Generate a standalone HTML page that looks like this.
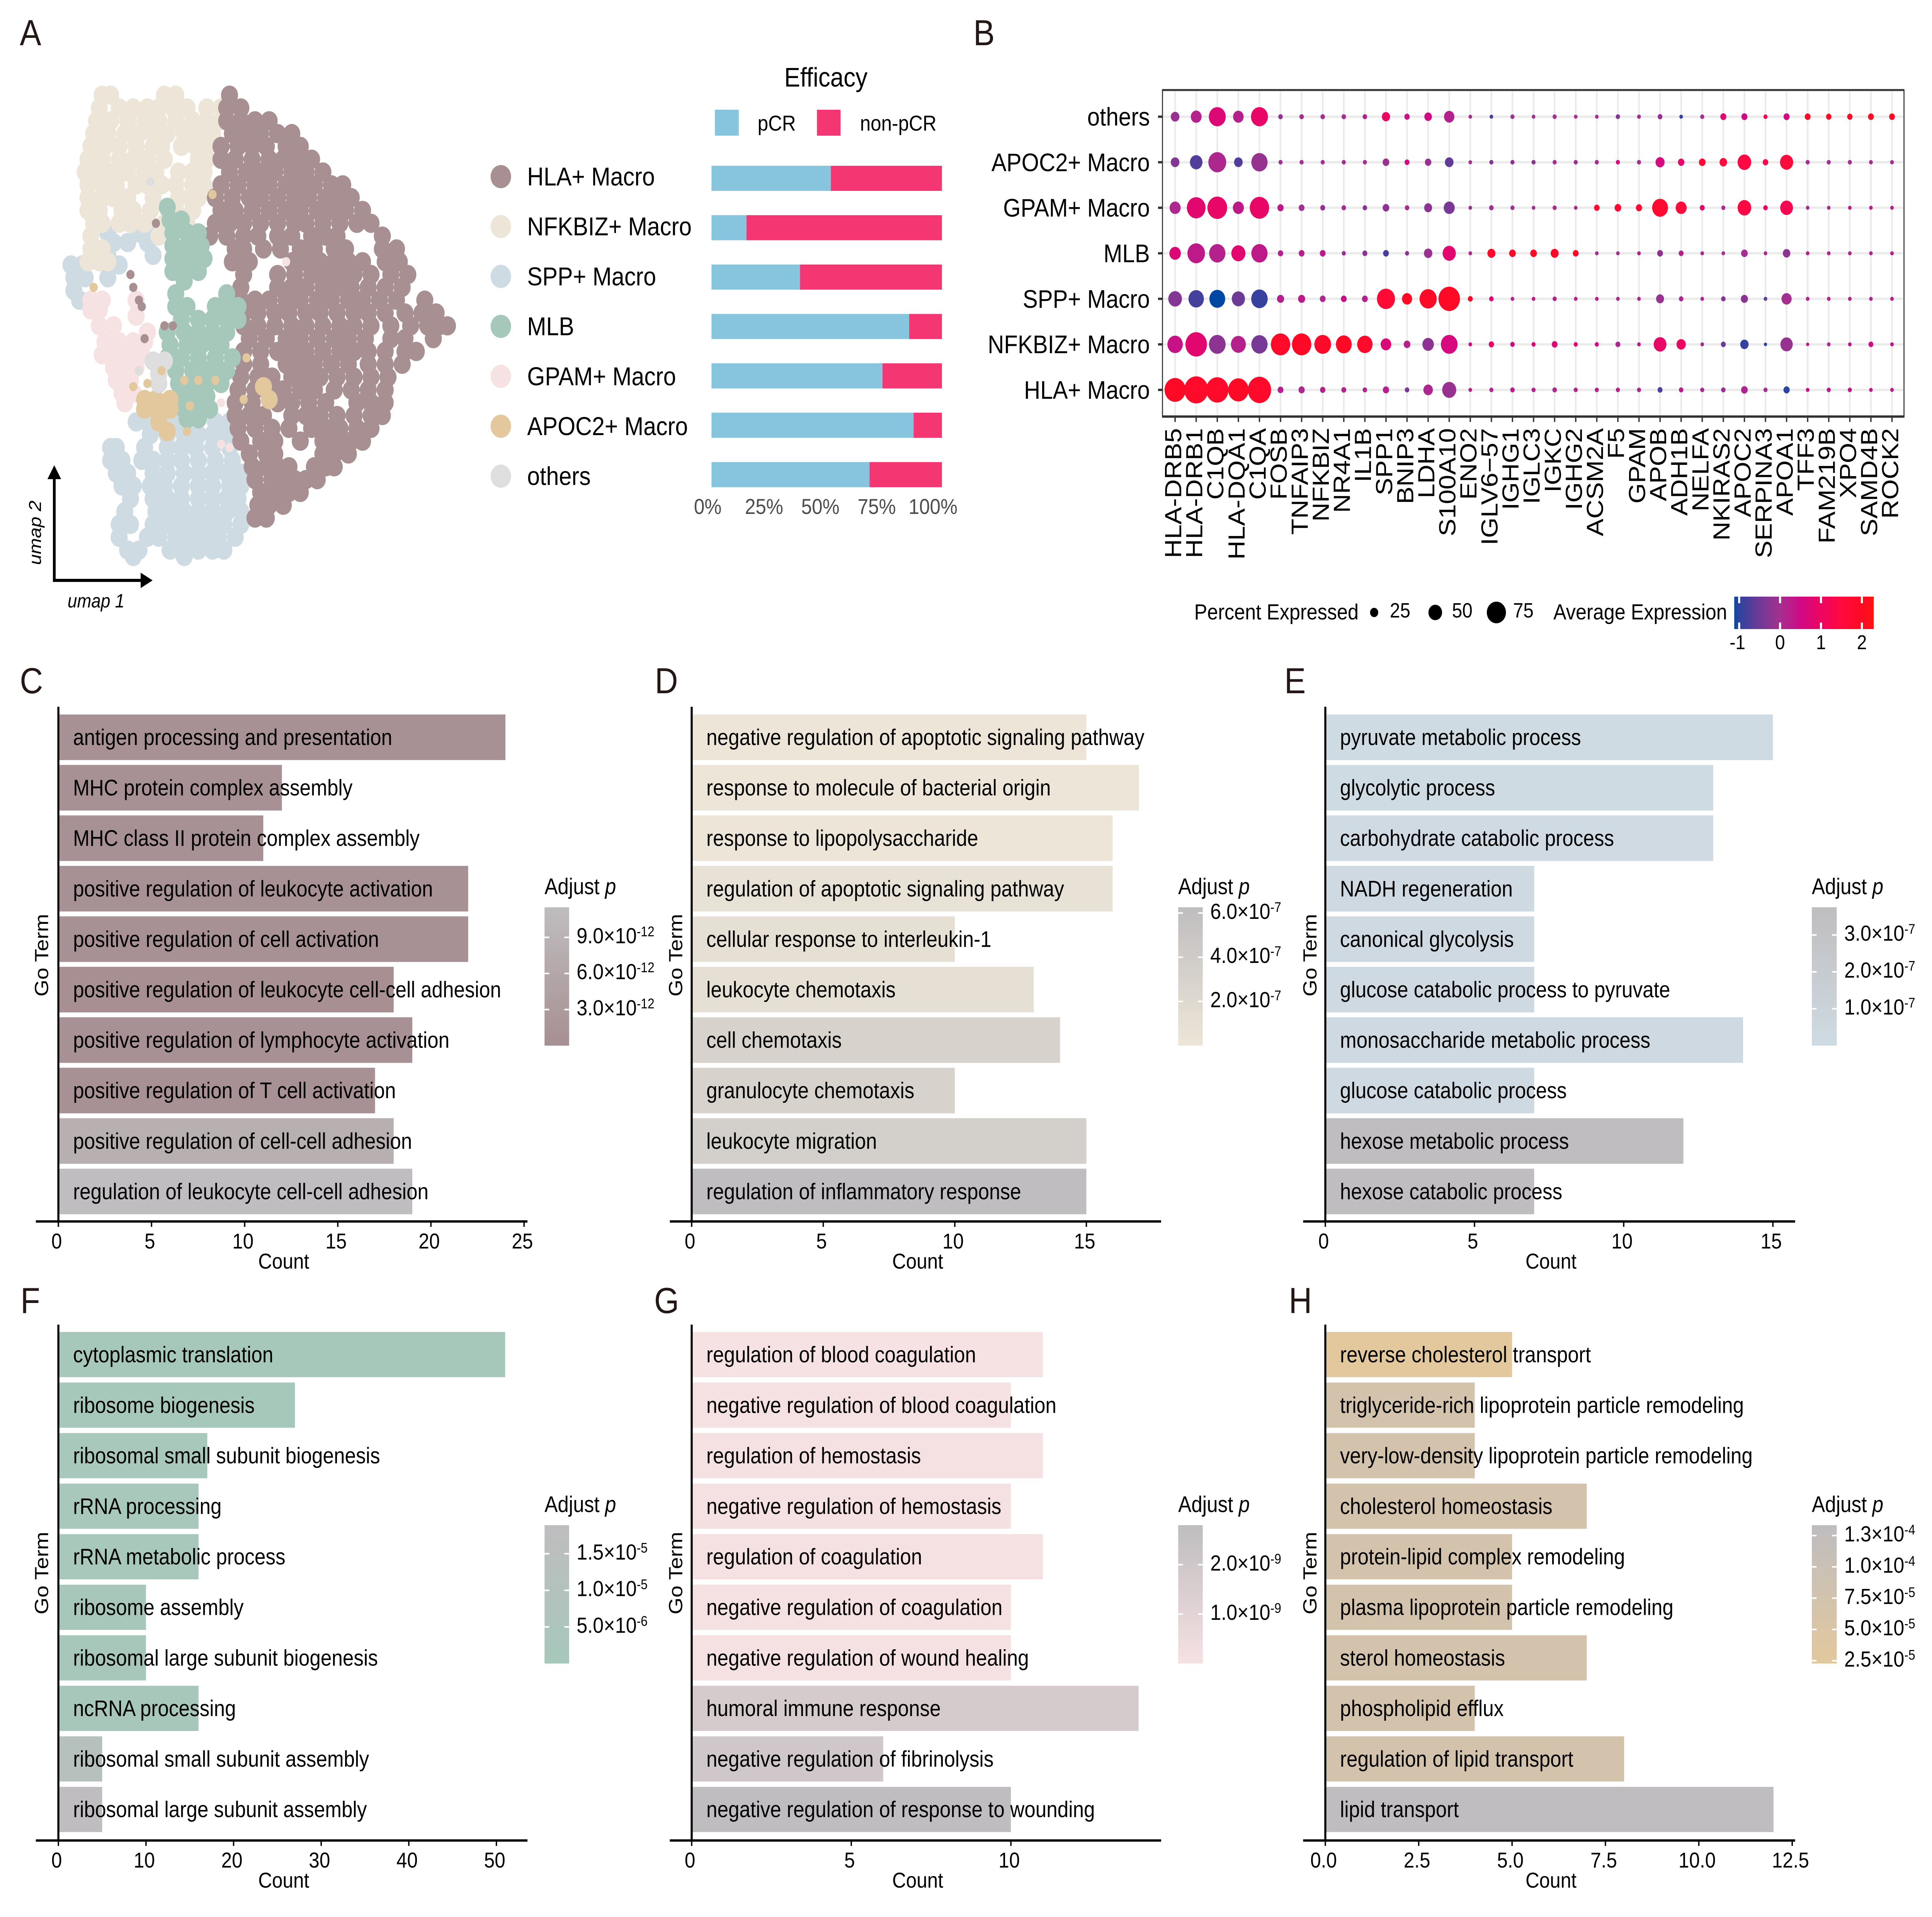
<!DOCTYPE html>
<html lang="en">
<head>
<meta charset="utf-8">
<title>Macrophage subsets figure</title>
<style>
html,body{margin:0;padding:0;background:#fff;width:100%;overflow:hidden;}
svg{display:block;width:100%;height:4961px;font-family:"Liberation Sans",Arial,sans-serif;}
</style>
</head>
<body>
<svg id="figure" xmlns="http://www.w3.org/2000/svg" viewBox="0 0 5659 4961" preserveAspectRatio="none">
<defs id="defs"></defs>
<rect width="5659" height="4961" fill="#fff"></rect>
</svg>
<script>
/* ---------- Panel A data ---------- */
const clusterNames = ["HLA+ Macro","NFKBIZ+ Macro","SPP+ Macro","MLB","GPAM+ Macro","APOC2+ Macro","others"];
const clusterColors = ["#a78f92","#ede6d8","#cfdbe3","#a6c8bb","#f6e1e3","#e3c89d","#dedede"];
const pcrPercent = [51.8,15.2,38.4,85.8,74.2,87.7,68.6];
const pctTicks = [0,25,50,75,100];
const pctTickLabels = ["0%","25%","50%","75%","100%"];
/* UMAP coordinates, one row per umap-2 value: [umap2, umap1, umap1, ...] */
const umapHla = [
[8,63],[12,62,67],[16,62,67,72,77],[20,64,69,74,80,85],[24,60,66,71,76,83,88],
[28,60,65,71,77,82,87,92],[32,63,69,74,79,85,90,96],[36,60,66,72,77,83,88,93,99,103],
[40,58,64,70,74,80,86,91,97,102,106],[44,60,65,71,77,83,88,94,99,104,110],
[48,58,63,68,74,80,86,90,96,102,108,113],[52,56,62,68,73,80,85,92,97,101,117],
[56,65,68,75,81,88,93,100,104,117,122],[60,64,68,70,85,90,95,100,105,110,118,123],
[64,68,80,86,92,97,102,107,113,120,126],[68,67,80,85,90,96,101,106,112,118,124],
[72,67,72,77,83,88,94,99,105,110,116,122,132],[76,68,73,79,84,90,95,101,107,112,118,125,131,136],
[80,68,73,79,85,90,96,102,107,113,120,127,133,137,140],[84,70,76,83,88,94,100,105,111,120,125,135],
[88,68,74,80,85,90,96,102,107,112,118,125,129],[92,68,74,83,88,93,99,105,112,118,124],
[96,67,73,78,85,90,95,101,107,113,119],[100,66,72,77,82,88,93,100,106,112,118],
[104,65,71,80,85,91,97,108,113,118],[108,65,70,75,85,90,95,101,107,113,117],
[112,66,72,78,84,92,97,102,108,113],[116,67,74,79,88,96,101,106,110],
[120,70,76,79,96,100,105],[124,71,76,80,84,93,97,100],[128,72,78,82,86,90,94],
[132,74,79,84,88],[136,73,77,82],[140,72,76]
];
const umapNfkbiz = [
[8,18,21,40,44],[12,17,24,29,34,38,43,48,55,60],[16,16,21,27,33,38,44,50,55,60],
[20,15,20,26,31,36,41,47,52,57],[24,14,19,24,30,36,39,46,51,55],[28,13,18,24,29,34,40,52,55],
[32,12,17,22,27,33,37,45,50,54],[36,13,18,23,30,34,39,44,50,54],[40,13,18,22,27,36,45,49,52],
[44,13,17,25,29,35,44,50],[48,15,18,24,28,33,40,48],[52,14,38],[56,14,18],[60,13,17,20]
];
const umapSpp = [
[51,31,36,20],[54,34,27,22],[58,36,20],[61,7,11,24],[65,8,12,20],[69,8],[72,10],
[110,30,34,43,50,58,63],[114,35,41,47,52,57,62],[118,21,23,33,41,46,51,57,63],
[122,21,25,32,36,41,46,52,58,64],[126,23,27,36,41,47,52,57,62,67],[130,25,29,35,40,46,52,57,63,67],
[134,28,36,41,46,52,57,62,66],[138,26,37,42,47,52,57,62,67],[142,24,28,36,41,46,51,56,61,67],
[146,24,34,38,44,49,54,59,65],[150,27,31,42,47,52,57,61],[152,29,47]
];
const umapMlb = [
[43,41],[47,42,46],[51,43,48,52],[55,43,48,53],[59,43,47,51,54],[63,43,48,52],[66,47],
[70,44,62],[74,44,48,58,63,66],[78,46,52,57,62,66],[82,41,47,52,57,62],[86,42,48,53,58,60],
[90,41,46,52,58,64],[94,44,50,55,60,62],[98,45,50,55,60],[102,47,52,55],[106,47,52,56],[109,48,52]
];
const umapGpam = [
[72,14,18,30],[75,14,17],[77,30],[80,17,22],[82,34],[85,19,24,29,33],[89,18,23,28,32],
[93,22,27,30],[97,23,28],[101,25,29],[104,26]
];
const umapApoc2 = [[99,75],[103,33,37,42,77],[106,33,37,42],[110,38],[113,41]];
const umapOthers = [[91,36,40],[95,38],[98,38]];
const umapClusters = [umapSpp,umapNfkbiz,umapHla,umapMlb,umapGpam,umapApoc2,umapOthers];
const umapClusterIndex = [2,1,0,3,4,5,6];
/* isolated cells: [cluster index, umap1, umap2] */
const umapSingles = [
[0,28,64],[0,29,68],[0,31,72],[0,32,74],[0,40,80],[0,43,80],[0,33,84],[0,37,48],
[4,83,60],[4,60,117],[4,63,118],[4,60,104],
[5,29,99],[5,34,98],[5,39,94],[5,47,97],[5,52,97],[5,58,97],[5,68,103],
[5,69,90],[5,57,39],[5,15,68],[5,49,105],[5,48,113],[6,31,94],[6,35,35]
];

/* ---------- Panel B data ---------- */
const dotGenes = ["HLA-DRB5","HLA-DRB1","C1QB","HLA-DQA1","C1QA","FOSB","TNFAIP3","NFKBIZ","NR4A1","IL1B","SPP1","BNIP3","LDHA","S100A10","ENO2","IGLV6\u221257","IGHG1","IGLC3","IGKC","IGHG2","ACSM2A","F5","GPAM","APOB","ADH1B","NELFA","NKIRAS2","APOC2","SERPINA3","APOA1","TFF3","FAM219B","XPO4","SAMD4B","ROCK2"];
const dotRows = ["HLA+ Macro","NFKBIZ+ Macro","SPP+ Macro","MLB","GPAM+ Macro","APOC2+ Macro","others"];
const dotPct = [
[84,97,90,81,94,14,16,12,10,8,16,8,31,52,4,6,8,6,8,6,6,6,6,10,8,6,8,18,6,16,4,6,6,4,4],
[58,86,64,56,62,76,76,64,60,58,36,18,40,64,4,12,8,6,14,6,6,10,4,46,30,4,10,26,2,44,2,4,4,10,4],
[50,58,60,48,63,20,20,14,14,14,70,34,66,86,10,8,4,4,6,4,4,4,4,24,8,4,8,20,4,34,4,4,4,4,4],
[40,68,62,52,62,12,14,14,6,10,14,6,26,48,4,24,18,18,24,14,4,4,4,14,10,4,4,18,4,22,4,4,4,4,4],
[38,73,78,38,76,16,14,10,8,8,18,8,24,38,4,8,6,4,6,4,13,18,16,60,38,10,6,50,8,46,4,4,4,4,4],
[27,45,69,27,62,6,6,6,6,6,18,10,17,27,4,6,6,6,6,6,6,6,6,29,17,18,22,50,13,48,6,6,6,5,5],
[27,37,65,36,65,8,8,8,8,8,25,12,22,35,4,4,6,4,6,4,4,7,5,9,4,6,15,15,6,15,14,12,12,14,14]
];
const dotExp = [
[1.9,1.8,1.8,1.9,1.8,.2,.1,.2,.1,.1,.2,-.4,.1,-.1,.2,.1,.2,.2,.1,.2,.2,.2,.1,-.7,.2,.1,-.1,.1,0,-1,.4,.3,.3,.3,.3],
[.4,.8,-.2,.2,-.4,1.8,1.9,1.8,1.9,1.8,.7,.2,-.2,.6,.5,.9,.5,.7,.7,.8,.6,.1,.3,.9,1,.1,-.5,-.9,-1,-.1,.3,.1,.3,.4,.3],
[-.3,-.8,-1.09,-.5,-.9,.2,.3,.1,.4,.2,1.6,1.9,1.9,1.9,1.9,.7,.1,.3,.2,.2,.2,.1,.1,-.1,.1,.1,-.3,-.2,-.6,0,.2,.2,.2,.1,.2],
[.7,.3,.2,.8,.3,.2,.2,.3,-.1,-.2,-.8,-.2,-.1,.8,.1,1.8,1.8,1.9,1.9,1.9,0,0,.2,-.2,.2,.1,0,0,.1,-.2,.2,.2,.2,.1,.2],
[.1,.8,.9,.3,.9,.3,0,-.1,0,-.2,-.2,0,-.2,-.4,-.1,-.1,-.1,0,.1,.1,1.6,1.7,1.7,1.7,1.5,.8,0,1.4,.9,1.2,0,0,.3,.2,.2],
[-.3,-.7,.1,-.7,-.1,0,0,0,0,0,-.1,.6,-.1,-.6,0,-.3,-.2,-.2,0,-.1,0,.6,0,.6,.9,1.6,1.5,1.4,1.3,1.5,0,0,0,0,0],
[-.1,.2,.7,.2,.9,-.2,0,0,0,.2,1,.4,.5,.2,0,-.8,-.1,-.1,0,0,0,-.3,0,-.1,-.9,0,.8,.5,1.3,.5,1.8,1.9,1.9,1.9,2]
];
const sizeLegendPct = [25,50,75];
const sizeLegendLabels = ["25","50","75"];
const expTicks = [-1,0,1,2];
const expTickLabels = ["-1","0","1","2"];
const expStopValues = [-1.09,-1,-.5,0,.5,1,1.5,2,2.25];
const expStopColors = ["#0047a3","#2a44a0","#6d3a96","#a33090","#d00a85","#ee0560","#ff0a3c","#ff0a20","#ff1414"];

/* ---------- Panels C-H data ---------- */
const termsC = ["antigen processing and presentation","MHC protein complex assembly","MHC class II protein complex assembly","positive regulation of leukocyte activation","positive regulation of cell activation","positive regulation of leukocyte cell-cell adhesion","positive regulation of lymphocyte activation","positive regulation of T cell activation","positive regulation of cell-cell adhesion","regulation of leukocyte cell-cell adhesion"];
const countsC = [24,12,11,22,22,18,19,17,18,19];
const pvalsC = [.6e-12,.5e-12,.6e-12,.5e-12,.5e-12,.1e-12,.5e-12,.5e-12,8e-12,11.5e-12];
const xTicksC = [0,5,10,15,20,25];
const xLabelsC = ["0","5","10","15","20","25"];
const pTicksC = [9e-12,6e-12,3e-12];
const pLabelsC = ["9.0\u00d710^-12","6.0\u00d710^-12","3.0\u00d710^-12"];
const pDomainC = [0,11.5e-12];

const termsD = ["negative regulation of apoptotic signaling pathway","response to molecule of bacterial origin","response to lipopolysaccharide","regulation of apoptotic signaling pathway","cellular response to interleukin-1","leukocyte chemotaxis","cell chemotaxis","granulocyte chemotaxis","leukocyte migration","regulation of inflammatory response"];
const countsD = [15,17,16,16,10,13,14,10,15,15];
const pvalsD = [.05e-7,.1e-7,.1e-7,.7e-7,1e-7,1e-7,3e-7,3e-7,3.5e-7,6.26e-7];
const xTicksD = [0,5,10,15];
const xLabelsD = ["0","5","10","15"];
const pTicksD = [6e-7,4e-7,2e-7];
const pLabelsD = ["6.0\u00d710^-7","4.0\u00d710^-7","2.0\u00d710^-7"];
const pDomainD = [0,6.26e-7];

const termsE = ["pyruvate metabolic process","glycolytic process","carbohydrate catabolic process","NADH regeneration","canonical glycolysis","glucose catabolic process to pyruvate","monosaccharide metabolic process","glucose catabolic process","hexose metabolic process","hexose catabolic process"];
const countsE = [15,13,13,7,7,7,14,7,12,7];
const pvalsE = [.05e-7,.05e-7,.1e-7,.2e-7,.2e-7,.2e-7,.2e-7,.2e-7,3.75e-7,3.75e-7];
const xTicksE = [0,5,10,15];
const xLabelsE = ["0","5","10","15"];
const pTicksE = [3e-7,2e-7,1e-7];
const pLabelsE = ["3.0\u00d710^-7","2.0\u00d710^-7","1.0\u00d710^-7"];
const pDomainE = [0,3.75e-7];

const termsF = ["cytoplasmic translation","ribosome biogenesis","ribosomal small subunit biogenesis","rRNA processing","rRNA metabolic process","ribosome assembly","ribosomal large subunit biogenesis","ncRNA processing","ribosomal small subunit assembly","ribosomal large subunit assembly"];
const countsF = [51,27,17,16,16,10,10,16,5,5];
const pvalsF = [.01e-5,.01e-5,.05e-5,.05e-5,.05e-5,.1e-5,.1e-5,.1e-5,1.2e-5,1.89e-5];
const xTicksF = [0,10,20,30,40,50];
const xLabelsF = ["0","10","20","30","40","50"];
const pTicksF = [1.5e-5,1e-5,5e-6];
const pLabelsF = ["1.5\u00d710^-5","1.0\u00d710^-5","5.0\u00d710^-6"];
const pDomainF = [0,1.89e-5];

const termsG = ["regulation of blood coagulation","negative regulation of blood coagulation","regulation of hemostasis","negative regulation of hemostasis","regulation of coagulation","negative regulation of coagulation","negative regulation of wound healing","humoral immune response","negative regulation of fibrinolysis","negative regulation of response to wounding"];
const countsG = [11,10,11,10,11,10,10,14,6,10];
const pvalsG = [.02e-9,.05e-9,.05e-9,.05e-9,.05e-9,.05e-9,.05e-9,1.7e-9,2e-9,2.8e-9];
const xTicksG = [0,5,10];
const xLabelsG = ["0","5","10"];
const pTicksG = [2e-9,1e-9];
const pLabelsG = ["2.0\u00d710^-9","1.0\u00d710^-9"];
const pDomainG = [0,2.8e-9];

const termsH = ["reverse cholesterol transport","triglyceride-rich lipoprotein particle remodeling","very-low-density lipoprotein particle remodeling","cholesterol homeostasis","protein-lipid complex remodeling","plasma lipoprotein particle remodeling","sterol homeostasis","phospholipid efflux","regulation of lipid transport","lipid transport"];
const countsH = [5,4,4,7,5,5,7,4,8,12];
const pvalsH = [2.3e-5,7e-5,7e-5,7e-5,7e-5,7e-5,7e-5,7e-5,7e-5,13.33e-5];
const xTicksH = [0,2.5,5,7.5,10,12.5];
const xLabelsH = ["0.0","2.5","5.0","7.5","10.0","12.5"];
const pTicksH = [1.25e-4,1e-4,7.5e-5,5e-5,2.5e-5];
const pLabelsH = ["1.3\u00d710^-4","1.0\u00d710^-4","7.5\u00d710^-5","5.0\u00d710^-5","2.5\u00d710^-5"];
const pDomainH = [2.28e-5,13.33e-5];

/* ---------- helpers ---------- */
const NS = "http://www.w3.org/2000/svg";
const svg = document.getElementById("figure");
const defs = document.getElementById("defs");
function mk(tag, attrs, parent, txt){
  const n = document.createElementNS(NS, tag);
  for (const k in attrs) n.setAttribute(k, attrs[k]);
  if (txt !== undefined) n.textContent = txt;
  (parent || svg).appendChild(n);
  return n;
}
function hex2rgb(h){return [parseInt(h.slice(1,3),16),parseInt(h.slice(3,5),16),parseInt(h.slice(5,7),16)];}
function mix(a,b,t){
  const A=hex2rgb(a),B=hex2rgb(b);
  return "rgb("+A.map((v,i)=>Math.round(v+(B[i]-v)*t)).join(",")+")";
}

/* ---------- panel letters ---------- */
const panelLetters = ["A","B","C","D","E","F","G","H"];
const letterX = [58,2851,58,1918,3762,60,1916,3775];
const letterY = [117,117,1794,1794,1794,3398,3398,3398];
panelLetters.forEach((L,i)=>{
  const t = mk("text",{x:letterX[i],y:letterY[i],"font-size":94,fill:"#231815"},svg,L);
  
  
});

/* ---------- Panel A: UMAP ---------- */
const umapX = v => 150 + v*8.29;
const umapY = v => 180 + v*8.29;
const gUmap = mk("g",{},svg);


umapClusters.forEach((rows,ci)=>{
  const col = clusterColors[umapClusterIndex[ci]];
  const g = mk("g",{fill:col},gUmap);
  
  
  rows.forEach(row=>{
    for(let k=1;k<row.length;k++){
      const c = mk("circle",{cx:umapX(row[k]),cy:umapY(row[0]),r:25},g);
      
      
    }
  });
});
umapSingles.forEach(s=>{
  const c = mk("circle",{cx:umapX(s[1]),cy:umapY(s[2]),r:12,fill:clusterColors[s[0]]},gUmap);
  
  
});
/* umap arrows */
const arrowV = mk("line",{x1:159,y1:1504,x2:159,y2:1230,stroke:"#000","stroke-width":8});


const arrowVHead = mk("polygon",{points:"159,1204 139,1240 179,1240",fill:"#000"});


const arrowH = mk("line",{x1:155,y1:1502,x2:420,y2:1502,stroke:"#000","stroke-width":8});


const arrowHHead = mk("polygon",{points:"447,1502 412,1482 412,1522",fill:"#000"});


const umap2Label = mk("text",{transform:"translate(120,1462) rotate(-90)","font-size":50,"font-style":"italic"},svg,"umap 2");


const umap1Label = mk("text",{x:198,y:1572,"font-size":50,"font-style":"italic"},svg,"umap 1");



/* cluster legend + stacked bars */
const stackX = p => 2084 + p/100*675;
clusterNames.forEach((name,i)=>{
  const cy = 457 + 129.2*i;
  const dot = mk("circle",{cx:1467,cy:cy,r:30,fill:clusterColors[i]});
  
  
  const lab = mk("text",{x:1544,y:cy+23,"font-size":67},svg,name);
  
  
  const top = 429 + 127.8*i;
  const b1 = mk("rect",{x:stackX(0),y:top,width:stackX(pcrPercent[i])-stackX(0),height:65,fill:"#87c4dd"});
  
  
  const b2 = mk("rect",{x:stackX(pcrPercent[i]),y:top,width:stackX(100)-stackX(pcrPercent[i]),height:65,fill:"#f43672"});
  
  
});
pctTicks.forEach((t,i)=>{
  const lab = mk("text",{x:stackX(t)-11-t*0.15,y:1330,"font-size":56,fill:"#4d4d4d","text-anchor":"middle"},svg,pctTickLabels[i]);
  
  
});
const effTitle = mk("text",{x:2419,y:224,"font-size":70,"text-anchor":"middle"},svg,"Efficacy");


const effSw1 = mk("rect",{x:2094,y:284,width:70,height:67,fill:"#87c4dd"});


const effLab1 = mk("text",{x:2219,y:338,"font-size":56},svg,"pCR");


const effSw2 = mk("rect",{x:2393,y:284,width:69,height:67,fill:"#f43672"});


const effLab2 = mk("text",{x:2519,y:338,"font-size":56},svg,"non-pCR");



/* ---------- Panel B: dot plot ---------- */
const colX = i => 3442 + i*61.76;
const rowY = i => 1009 - i*117.83;
const sizeD = p => 8 + 0.64*p;
function expColor(v){
  const s = expStopValues, c = expStopColors;
  if (v <= s[0]) return c[0];
  for (let i=1;i<s.length;i++){ if (v <= s[i]) return mix(c[i-1],c[i],(v-s[i-1])/(s[i]-s[i-1])); }
  return c[c.length-1];
}
const gGrid = mk("g",{stroke:"#ebebeb"},svg);


dotGenes.forEach((g,i)=>{
  const l = mk("line",{x1:colX(i),x2:colX(i),y1:236,y2:1076,"stroke-width":5},gGrid);
  
  
});
dotRows.forEach((r,i)=>{
  const l = mk("line",{x1:3407,x2:5575,y1:rowY(i),y2:rowY(i),"stroke-width":6},gGrid);
  
  
});
const frame = mk("g",{stroke:"#333"},svg);


const frameL = mk("line",{x1:3405,x2:3405,y1:232,y2:1080,"stroke-width":3},frame);


const frameR = mk("line",{x1:5577,x2:5577,y1:232,y2:1080,"stroke-width":3},frame);


const frameT = mk("line",{x1:3404,x2:5578,y1:233,y2:233,"stroke-width":5},frame);


const frameB = mk("line",{x1:3404,x2:5578,y1:1078,y2:1078,"stroke-width":6},frame);


dotRows.forEach((r,i)=>{
  const lab = mk("text",{x:3368,y:rowY(i)+23,"font-size":66,"text-anchor":"end"},svg,r);
  
  
  const tk = mk("line",{x1:3392,x2:3405,y1:rowY(i),y2:rowY(i),stroke:"#333","stroke-width":6});
  
  
  dotGenes.forEach((g,j)=>{
    const c = mk("circle",{cx:colX(j),cy:rowY(i),r:sizeD(dotPct[i][j])/2,fill:expColor(dotExp[i][j])});
    
    
  });
});
dotGenes.forEach((g,j)=>{
  const tk = mk("line",{x1:colX(j),x2:colX(j),y1:1078,y2:1092,stroke:"#333","stroke-width":4});
  
  
  const lab = mk("text",{transform:"translate("+(colX(j)+18)+",1108) rotate(-90)","font-size":68,"text-anchor":"end"},svg,g);
  
  
});
/* dot plot legends */
const pctTitle = mk("text",{x:3498,y:1603,"font-size":57},svg,"Percent Expressed");


const sizeLegendX = [4025,4204,4383];
const sizeLegendTextX = [4071,4253,4432];
sizeLegendPct.forEach((p,i)=>{
  const c = mk("circle",{cx:sizeLegendX[i],cy:1585,r:sizeD(p)/2,fill:"#000"});
  
  
  const t = mk("text",{x:sizeLegendTextX[i],y:1598,"font-size":54},svg,sizeLegendLabels[i]);
  
  
});
const avgTitle = mk("text",{x:4550,y:1603,"font-size":57},svg,"Average Expression");


const expX = v => 5214 + v*119.8;
const gradExp = mk("linearGradient",{id:"gradExp",x1:"0",x2:"1",y1:"0",y2:"0"},defs);
expStopValues.forEach((v,i)=>{
  mk("stop",{offset:(v-expStopValues[0])/(expStopValues[expStopValues.length-1]-expStopValues[0]),"stop-color":expStopColors[i]},gradExp);
});
const expBar = mk("rect",{x:expX(-1.12),y:1544,width:expX(2.29)-expX(-1.12),height:84,fill:"url(#gradExp)"});


expTicks.forEach((v,i)=>{
  const t1 = mk("rect",{x:expX(v)-3,y:1544,width:6,height:17,fill:"#fff"});
  
  
  const t2 = mk("rect",{x:expX(v)-3,y:1611,width:6,height:17,fill:"#fff"});
  
  
  const lab = mk("text",{x:expX(v)-(i===0?5:0),y:1680,"font-size":52,"text-anchor":"middle"},svg,expTickLabels[i]);
  
  
});

/* ---------- Panels C-H: GO bar charts ---------- */
function drawGo(cfg){
  const g = mk("g",{},svg);
  
  
  const L = cfg.layout, R = cfg.row;
  const xS = v => L.axisX + v*L.unit;
  const pS = v => R.cbBottom - (v-cfg.domain[0])/(cfg.domain[1]-cfg.domain[0])*(R.cbBottom-R.cbTop);
  const colorOf = v => mix(cfg.color,"#bfbdbf",Math.max(0,Math.min(1,(v-cfg.domain[0])/(cfg.domain[1]-cfg.domain[0]))));
  cfg.terms.forEach((term,i)=>{
    const top = R.barTop + i*R.period;
    const b = mk("rect",{x:xS(0)+3,y:top,width:xS(cfg.counts[i])-xS(0)-3,height:R.barH,fill:colorOf(cfg.pvals[i])},g);
    
    
  });
  cfg.terms.forEach((term,i)=>{
    const top = R.barTop + i*R.period;
    const t = mk("text",{x:xS(0)+43,y:top+R.barH/2+20,"font-size":58},g,term);
    
    
  });
  const yAxis = mk("line",{x1:xS(0),x2:xS(0),y1:R.axisTop,y2:R.axisY+3,stroke:"#000","stroke-width":6},g);
  
  
  const xAxis = mk("line",{x1:L.lineL,x2:L.lineR,y1:R.axisY,y2:R.axisY,stroke:"#000","stroke-width":6},g);
  
  
  cfg.xTicks.forEach((v,i)=>{
    const tk = mk("line",{x1:xS(v),x2:xS(v),y1:R.axisY,y2:R.axisY+14,stroke:"#000","stroke-width":4},g);
    
    
    const lab = mk("text",{x:xS(v)-5,y:R.axisY+70,"font-size":56,"text-anchor":"middle"},g,cfg.xLabels[i]);
    
    
  });
  const cnt = mk("text",{x:L.countX,y:R.axisY+122,"font-size":56,"text-anchor":"middle"},g,"Count");
  
  
  const goT = mk("text",{transform:"translate("+(L.goX+19)+","+R.goY+") rotate(-90)","font-size":56,"text-anchor":"middle"},g,"Go Term");
  
  
  /* colour bar */
  const adj = mk("text",{x:L.cbX,y:R.cbTop-34,"font-size":58},g);
  
  
  mk("tspan",{},adj,"Adjust ");
  mk("tspan",{"font-style":"italic"},adj,"p");
  const grad = mk("linearGradient",{id:"grad"+cfg.id,x1:"0",x2:"0",y1:"1",y2:"0"},defs);
  mk("stop",{offset:0,"stop-color":cfg.color},grad);
  mk("stop",{offset:1,"stop-color":"#bfbdbf"},grad);
  const cb = mk("rect",{x:L.cbX,y:R.cbTop,width:L.cbW,height:R.cbBottom-R.cbTop,fill:"url(#grad"+cfg.id+")"},g);
  
  
  cfg.pTicks.forEach((v,i)=>{
    const y = pS(v);
    const t1 = mk("rect",{x:L.cbX,y:y-2,width:14,height:4,fill:"#fff"},g);
    
    
    const t2 = mk("rect",{x:L.cbX+L.cbW-14,y:y-2,width:14,height:4,fill:"#fff"},g);
    
    
    const parts = cfg.pLabels[i].split("^");
    const lab = mk("text",{x:L.cbX+L.cbW+22,y:y+15,"font-size":57},g,parts[0]);
    
    
    mk("tspan",{dy:-18,"font-size":36},lab,parts[1]);
  });
}
const row1 = {barTop:1849,period:130.6,barH:118,axisY:3161,axisTop:1829,goY:2472,cbTop:2348,cbBottom:2706};
const row2 = {barTop:3447,period:130.8,barH:117,axisY:4763,axisTop:3428,goY:4071,cbTop:3947,cbBottom:4305};
const colC = {axisX:171,unit:54.56,lineL:105,lineR:1545,countX:831,goX:122,cbX:1595,cbW:72};
const colD = {axisX:2026,unit:77.07,lineL:1962,lineR:3401,countX:2688,goX:1979,cbX:3451,cbW:72};
const colE = {axisX:3882,unit:87.4,lineL:3817,lineR:5258,countX:4543,goX:3837,cbX:5307,cbW:73};
drawGo({id:"c",terms:termsC,counts:countsC,pvals:pvalsC,xTicks:xTicksC,xLabels:xLabelsC,pTicks:pTicksC,pLabels:pLabelsC,domain:pDomainC,color:clusterColors[0],layout:colC,row:row1});
drawGo({id:"d",terms:termsD,counts:countsD,pvals:pvalsD,xTicks:xTicksD,xLabels:xLabelsD,pTicks:pTicksD,pLabels:pLabelsD,domain:pDomainD,color:clusterColors[1],layout:colD,row:row1});
drawGo({id:"e",terms:termsE,counts:countsE,pvals:pvalsE,xTicks:xTicksE,xLabels:xLabelsE,pTicks:pTicksE,pLabels:pLabelsE,domain:pDomainE,color:clusterColors[2],layout:colE,row:row1});
drawGo({id:"f",terms:termsF,counts:countsF,pvals:pvalsF,xTicks:xTicksF,xLabels:xLabelsF,pTicks:pTicksF,pLabels:pLabelsF,domain:pDomainF,color:clusterColors[3],layout:Object.assign({},colC,{unit:25.66}),row:row2});
drawGo({id:"g",terms:termsG,counts:countsG,pvals:pvalsG,xTicks:xTicksG,xLabels:xLabelsG,pTicks:pTicksG,pLabels:pLabelsG,domain:pDomainG,color:clusterColors[4],layout:Object.assign({},colD,{unit:93.5}),row:row2});
drawGo({id:"h",terms:termsH,counts:countsH,pvals:pvalsH,xTicks:xTicksH,xLabels:xLabelsH,pTicks:pTicksH,pLabels:pLabelsH,domain:pDomainH,color:clusterColors[5],layout:Object.assign({},colE,{unit:109.4}),row:row2});
</script>
</body>
</html>
